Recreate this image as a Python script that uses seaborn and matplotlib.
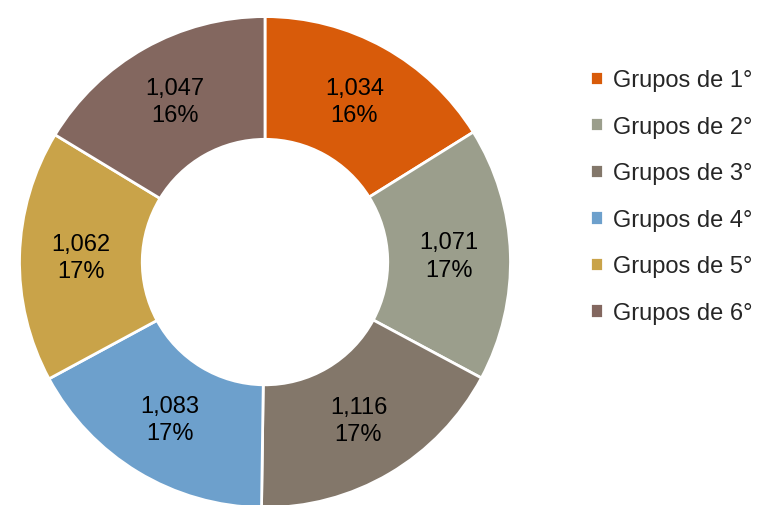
import matplotlib
matplotlib.use("Agg")
import matplotlib.pyplot as plt
import seaborn as sns

# Data
grupos = ["Grupos de 1°", "Grupos de 2°", "Grupos de 3°",
          "Grupos de 4°", "Grupos de 5°", "Grupos de 6°"]
valores = [1034, 1071, 1116, 1083, 1062, 1047]
colores = ["#D85B0A", "#9B9E8C", "#83776A", "#6DA0CC", "#C9A349", "#83675F"]

sns.set_theme(style="white")
plt.rcParams["font.family"] = ["Liberation Sans", "DejaVu Sans"]
palette = sns.color_palette(colores)

fig = plt.figure(figsize=(7.65, 5.06), dpi=100)
ax = fig.add_axes([0.0222, -0.0099, 0.6484, 0.980])

total = sum(valores)


def etiqueta(pct):
    v = int(round(pct * total / 100.0))
    return f"{v:,}\n{pct:.0f}%"


wedges, texts, autotexts = ax.pie(
    valores,
    colors=palette,
    startangle=90,
    counterclock=False,
    radius=1.0,
    autopct=etiqueta,
    pctdistance=0.75,
    wedgeprops=dict(width=0.5, edgecolor="white", linewidth=2),
    textprops=dict(fontsize=17, color="black", linespacing=1.3),
)
ax.set_xlim(-1.01, 1.01)
ax.set_ylim(-1.01, 1.01)
ax.set_aspect("equal")

fig.legend(
    wedges, grupos,
    loc="upper left",
    bbox_to_anchor=(0.759, 0.880),
    frameon=False,
    fontsize=17,
    handlelength=0.55,
    handleheight=0.55,
    handletextpad=0.4,
    labelspacing=1.04,
    borderaxespad=0,
)

fig.savefig("out.png", dpi=100)
